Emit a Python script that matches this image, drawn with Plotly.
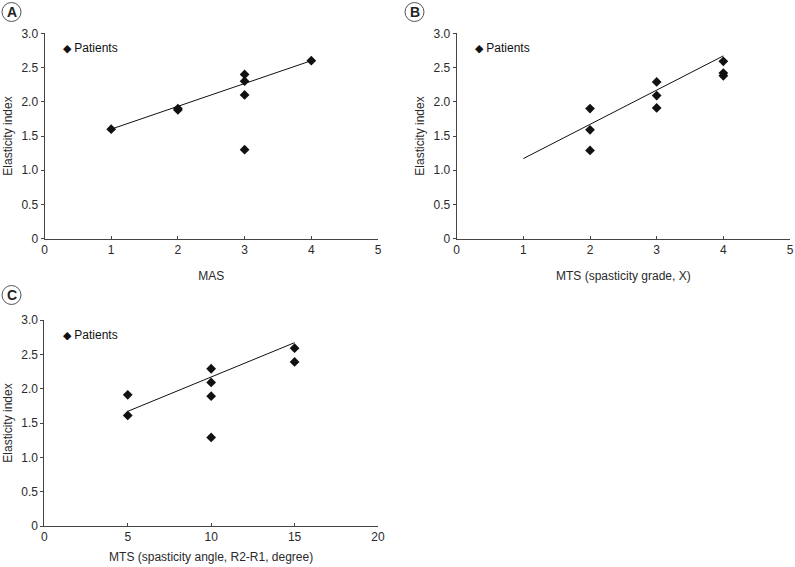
import plotly.graph_objects as go

# ---- data ----
a_x = [1, 2, 2, 3, 3, 3, 3, 4]
a_y = [1.6, 1.9, 1.88, 2.4, 2.3, 2.1, 1.3, 2.6]
a_fit_x = [1, 4]
a_fit_y = [1.6, 2.6]

b_x = [2, 2, 2, 3, 3, 3, 4, 4, 4]
b_y = [1.9, 1.59, 1.29, 2.29, 2.09, 1.91, 2.59, 2.42, 2.38]
b_fit_x = [1, 4]
b_fit_y = [1.17, 2.67]

c_x = [5, 5, 10, 10, 10, 10, 15, 15]
c_y = [1.91, 1.61, 2.29, 2.09, 1.89, 1.29, 2.59, 2.39]
c_fit_x = [5, 15]
c_fit_y = [1.67, 2.67]

y_tickvals = [0, 0.5, 1.0, 1.5, 2.0, 2.5, 3.0]
y_ticktext = ["0", "0.5", "1.0", "1.5", "2.0", "2.5", "3.0"]
ab_xticks = [0, 1, 2, 3, 4, 5]
c_xticks = [0, 5, 10, 15, 20]

x_titles = ["MAS", "MTS (spasticity grade, X)", "MTS (spasticity angle, R2-R1, degree)"]
y_title = "Elasticity index"
panel_labels = ["A", "B", "C"]
legend_name = "Patients"

W, H = 795, 567
FONT = "Liberation Sans, Arial, sans-serif"
TXT = "#2a2a2a"
AX = "#444444"
MK = "#111111"

def px(x):
    return x / W

def py(y):
    return 1 - y / H

fig = go.Figure()

panels = [
    (a_x, a_y, a_fit_x, a_fit_y, "x", "y"),
    (b_x, b_y, b_fit_x, b_fit_y, "x2", "y2"),
    (c_x, c_y, c_fit_x, c_fit_y, "x3", "y3"),
]
for xs, ys, fx, fy, xa, ya in panels:
    fig.add_trace(go.Scatter(x=fx, y=fy, mode="lines", xaxis=xa, yaxis=ya,
                             line=dict(color="#111111", width=1),
                             showlegend=False, hoverinfo="skip", cliponaxis=False))
    fig.add_trace(go.Scatter(x=xs, y=ys, mode="markers", xaxis=xa, yaxis=ya,
                             name=legend_name, cliponaxis=False,
                             marker=dict(symbol="diamond", size=7.5, color=MK),
                             showlegend=False))

# domains in pixels
domA = dict(x=[px(44.5), px(378)], y=[py(238.7), py(33.3)])
domB = dict(x=[px(456.7), px(790)], y=[py(238.7), py(33.3)])
domC = dict(x=[px(44.3), px(378)], y=[py(526), py(320)])

def xaxis(dom, ticks, rng, title, anchor, standoff):
    return dict(domain=dom, range=rng, tickvals=ticks, anchor=anchor, automargin=False,
                showline=True, linecolor=AX, linewidth=1, showgrid=False, zeroline=False,
                ticks="inside", ticklen=3, tickcolor=AX,
                tickfont=dict(family=FONT, size=12, color=TXT),
                title=dict(text=title, font=dict(family=FONT, size=12, color=TXT), standoff=standoff))

def yaxis(dom, anchor):
    return dict(domain=dom, range=[0, 3.0], tickvals=y_tickvals, ticktext=y_ticktext, anchor=anchor,
                automargin=False,
                showline=True, linecolor=AX, linewidth=1, showgrid=False, zeroline=False,
                ticks="outside", ticklen=3, tickcolor=AX,
                tickfont=dict(family=FONT, size=12, color=TXT),
                title=dict(text=y_title, font=dict(family=FONT, size=12, color=TXT), standoff=6))

fig.update_layout(
    width=W, height=H,
    margin=dict(l=0, r=0, t=0, b=0),
    paper_bgcolor="white", plot_bgcolor="white",
    showlegend=False,
    xaxis=xaxis(domA["x"], ab_xticks, [0, 5], x_titles[0], "y", 15),
    yaxis=yaxis(domA["y"], "x"),
    xaxis2=xaxis(domB["x"], ab_xticks, [0, 5], x_titles[1], "y2", 15),
    yaxis2=yaxis(domB["y"], "x2"),
    xaxis3=xaxis(domC["x"], c_xticks, [0, 20], x_titles[2], "y3", 9),
    yaxis3=yaxis(domC["y"], "x3"),
)

# legend-like key in each panel: diamond glyph + "Patients"
key_pos = [(61, 48), (473, 48), (61, 335)]
for kx, ky in key_pos:
    fig.add_annotation(x=px(kx), y=py(ky), xref="paper", yref="paper",
                       text="<span style='font-size:11px'>\u25C6</span> " + legend_name,
                       showarrow=False, xanchor="left", yanchor="middle",
                       font=dict(family=FONT, size=12, color="#111111"))

# panel label circles
label_pos = [(11.5, 12), (414.5, 12), (11.5, 295)]
for (cx, cy), lab in zip(label_pos, panel_labels):
    r = 9.5
    fig.add_shape(type="circle", xref="paper", yref="paper",
                  x0=px(cx - r), x1=px(cx + r), y0=py(cy + r), y1=py(cy - r),
                  line=dict(color="#555555", width=1))
    fig.add_annotation(x=px(cx), y=py(cy), xref="paper", yref="paper", text="<b>%s</b>" % lab,
                       showarrow=False, xanchor="center", yanchor="middle",
                       font=dict(family=FONT, size=14, color="#222222"))

fig.write_html("out.html", config={"displayModeBar": False},
               post_script="document.body.style.margin='0';document.body.style.overflow='hidden';")
